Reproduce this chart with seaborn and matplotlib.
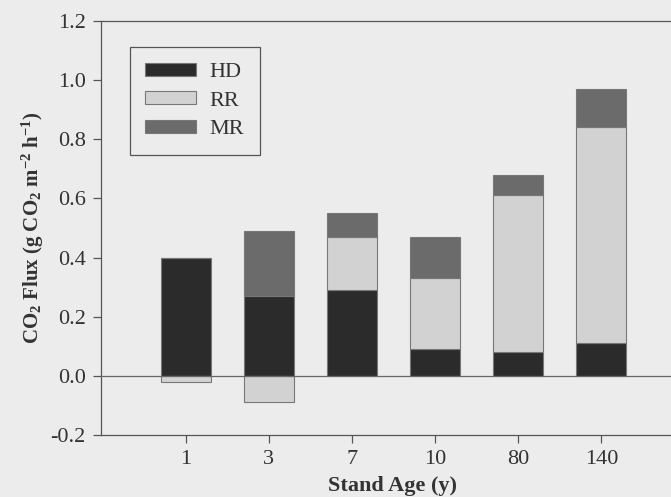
import numpy as np
import pandas as pd
import matplotlib
matplotlib.use("Agg")
import matplotlib.pyplot as plt
import seaborn as sns

# data
ages = ["1", "3", "7", "10", "80", "140"]
hd = [0.40, 0.27, 0.29, 0.09, 0.08, 0.11]
rr = [-0.02, -0.09, 0.18, 0.24, 0.53, 0.73]
mr = [0.00, 0.22, 0.08, 0.14, 0.07, 0.13]

sns.set_style("ticks")
plt.rcParams["font.family"] = ["Liberation Serif", "DejaVu Serif"]
plt.rcParams["mathtext.fontset"] = "custom"
plt.rcParams["mathtext.rm"] = "Liberation Serif:bold"
plt.rcParams["mathtext.default"] = "rm"

bg = "#ececec"
edge = "#777777"
txt = "#333333"

# stacking: negative RR hangs below zero, MR sits on top of the positive part
hd_a = np.array(hd)
rr_a = np.array(rr)
rr_bottom = np.where(rr_a > 0, hd_a, 0.0)
mr_bottom = hd_a + np.clip(rr_a, 0, None)

fig = plt.figure(figsize=(6.71, 4.97), dpi=100, facecolor=bg)
ax = fig.add_axes([101 / 671, 1 - 435 / 497, 1 - 101 / 671 + 0.02, (435 - 21) / 497])
ax.set_facecolor(bg)

sns.barplot(x=ages, y=hd, order=ages, color="#2b2b2b", width=0.6, edgecolor=edge,
            linewidth=0.8, label="HD", ax=ax, saturation=1)
sns.barplot(x=ages, y=rr, order=ages, color="#d2d2d2", width=0.6, edgecolor=edge,
            linewidth=0.8, bottom=rr_bottom, label="RR", ax=ax, saturation=1)
sns.barplot(x=ages, y=mr, order=ages, color="#6b6b6b", width=0.6, edgecolor=edge,
            linewidth=0.8, bottom=mr_bottom, label="MR", ax=ax, saturation=1)

ax.axhline(0, color="#666666", linewidth=0.9, zorder=3)

ax.set_ylim(-0.2, 1.2)
ax.set_yticks(np.arange(-0.2, 1.21, 0.2))
ax.set_yticklabels([f"{v:.1f}" for v in np.arange(-0.2, 1.21, 0.2)])
ax.set_xlim(-1.02, 6.0)

for s in ["left", "bottom", "top"]:
    ax.spines[s].set_color("#555555")
    ax.spines[s].set_linewidth(0.9)
ax.spines["right"].set_visible(False)
ax.tick_params(axis="both", direction="out", length=6, width=0.9, color="#555555",
               labelsize=16, labelcolor=txt, pad=5)

ax.set_xlabel("Stand Age (y)", fontsize=16, fontweight="bold", color=txt, labelpad=5)
ax.set_ylabel("CO$_2$ Flux (g CO$_2$ m$^{-2}$ h$^{-1}$)", fontsize=15,
              fontweight="bold", color=txt, labelpad=3)

leg = ax.legend(loc="upper left", bbox_to_anchor=(0.049, 0.937), borderaxespad=0,
                fontsize=16, frameon=True, fancybox=False, handlelength=2.3,
                handleheight=0.55, labelspacing=0.4, borderpad=0.7, handletextpad=0.6)
leg.get_frame().set_edgecolor("#555555")
leg.get_frame().set_facecolor(bg)
leg.get_frame().set_linewidth(0.9)
leg.get_frame().set_alpha(1)
for t in leg.get_texts():
    t.set_color(txt)

fig.savefig("out.png", dpi=100, facecolor=bg)
